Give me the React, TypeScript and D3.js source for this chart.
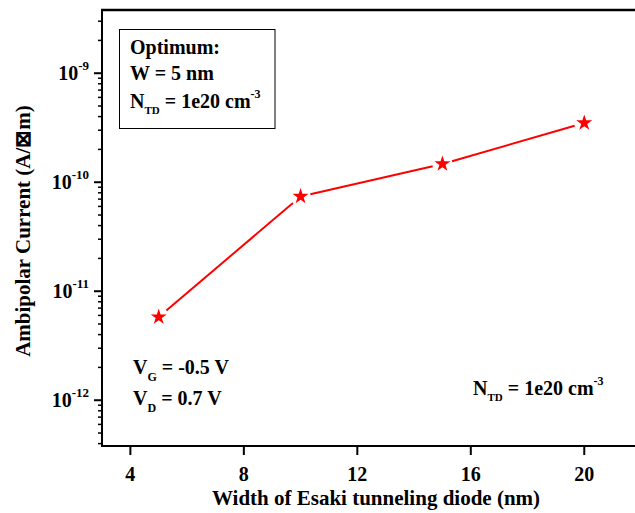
import React from 'react';
import * as d3 from 'd3';

// data
const widths = [5, 10, 15, 20];
const currents = [5.8e-12, 7.4e-11, 1.47e-10, 3.5e-10];
const xTickValues = [4, 8, 12, 16, 20];
const yDecades = [-12, -11, -10, -9];

const W = 635;
const H = 513;
const FONT = '"Liberation Serif", "Times New Roman", serif';

export default function App() {
  const x = d3.scaleLinear().domain([3, 22]).range([102, 641]);
  const y = d3.scaleLog().domain([Math.pow(10, -12.42), Math.pow(10, -8.42)]).range([446, 10]);

  const [y0, y1] = y.domain();
  const minorTicks: number[] = [];
  for (let e = -13; e <= -9; e++) {
    for (let m = 2; m <= 9; m++) {
      const v = m * Math.pow(10, e);
      if (v >= y0 && v <= y1) minorTicks.push(v);
    }
  }

  const pts = widths.map((w, i) => [x(w), y(currents[i])] as [number, number]);
  const gap = 10;
  const segs = pts.slice(1).map((p, i) => {
    const a = pts[i];
    const dx = p[0] - a[0];
    const dy = p[1] - a[1];
    const len = Math.hypot(dx, dy);
    const ux = dx / len;
    const uy = dy / len;
    return [a[0] + ux * gap, a[1] + uy * gap, p[0] - ux * gap, p[1] - uy * gap];
  });
  const star = d3.symbol().type(d3.symbolStar).size(80)();

  return (
    <svg width={W} height={H} style={{ position: 'absolute', left: 0, top: 0 }} fontFamily={FONT} fontWeight="bold">
      <rect width={W} height={H} fill="#fff" />

      {/* frame */}
      <line x1={101} x2={W} y1={10} y2={10} stroke="#000" strokeWidth={2.5} />
      <line x1={102} x2={102} y1={9} y2={447} stroke="#000" strokeWidth={2} />
      <line x1={101} x2={W} y1={446} y2={446} stroke="#000" strokeWidth={2} />

      {/* y ticks */}
      {minorTicks.map((v) => (
        <line key={v} x1={98} x2={102} y1={y(v)} y2={y(v)} stroke="#000" strokeWidth={1.5} />
      ))}
      {yDecades.map((e) => {
        const yy = y(Math.pow(10, e));
        return (
          <g key={e}>
            <line x1={94} x2={102} y1={yy} y2={yy} stroke="#000" strokeWidth={2} />
            <text x={89} y={yy + 7} textAnchor="end" fontSize={20}>
              10
              <tspan dy={-10} fontSize={13}>{e}</tspan>
            </text>
          </g>
        );
      })}

      {/* x ticks */}
      {xTickValues.map((v) => (
        <g key={v}>
          <line x1={x(v)} x2={x(v)} y1={446} y2={455} stroke="#000" strokeWidth={2} />
          <text x={x(v)} y={481} textAnchor="middle" fontSize={20}>{v}</text>
        </g>
      ))}

      {/* axis titles */}
      <text x={376} y={505} textAnchor="middle" fontSize={21}>Width of Esaki tunneling diode (nm)</text>
      <text transform="translate(30,231) rotate(-90)" textAnchor="middle" fontSize={21}>
        Ambipolar Current (A/⊠m)
      </text>

      {/* series */}
      {segs.map((s, i) => (
        <line key={i} x1={s[0]} y1={s[1]} x2={s[2]} y2={s[3]} stroke="#ff0000" strokeWidth={2} />
      ))}
      {pts.map((p, i) => (
        <path key={i} d={star} transform={`translate(${p[0]},${p[1]})`} fill="#ff0000" />
      ))}

      {/* annotation box */}
      <rect x={119.5} y={29.5} width={155.5} height={99} fill="none" stroke="#000" strokeWidth={1} />
      <text x={130} y={54} fontSize={20}>Optimum:</text>
      <text x={130} y={80} fontSize={20}>W = 5 nm</text>
      <text x={130} y={108} fontSize={20}>
        N<tspan fontSize={11} dy={6}>TD</tspan>
        <tspan dy={-6}> = 1e20 cm</tspan>
        <tspan fontSize={12} dy={-10}>-3</tspan>
      </text>

      <text x={133} y={374} fontSize={20}>
        V<tspan fontSize={12} dy={7}>G</tspan>
        <tspan dy={-7}> = -0.5 V</tspan>
      </text>
      <text x={133} y={405} fontSize={20}>
        V<tspan fontSize={12} dy={7}>D</tspan>
        <tspan dy={-7}> = 0.7 V</tspan>
      </text>

      <text x={473} y={395} fontSize={20}>
        N<tspan fontSize={11} dy={6}>TD</tspan>
        <tspan dy={-6}> = 1e20 cm</tspan>
        <tspan fontSize={12} dy={-10}>-3</tspan>
      </text>
    </svg>
  );
}
